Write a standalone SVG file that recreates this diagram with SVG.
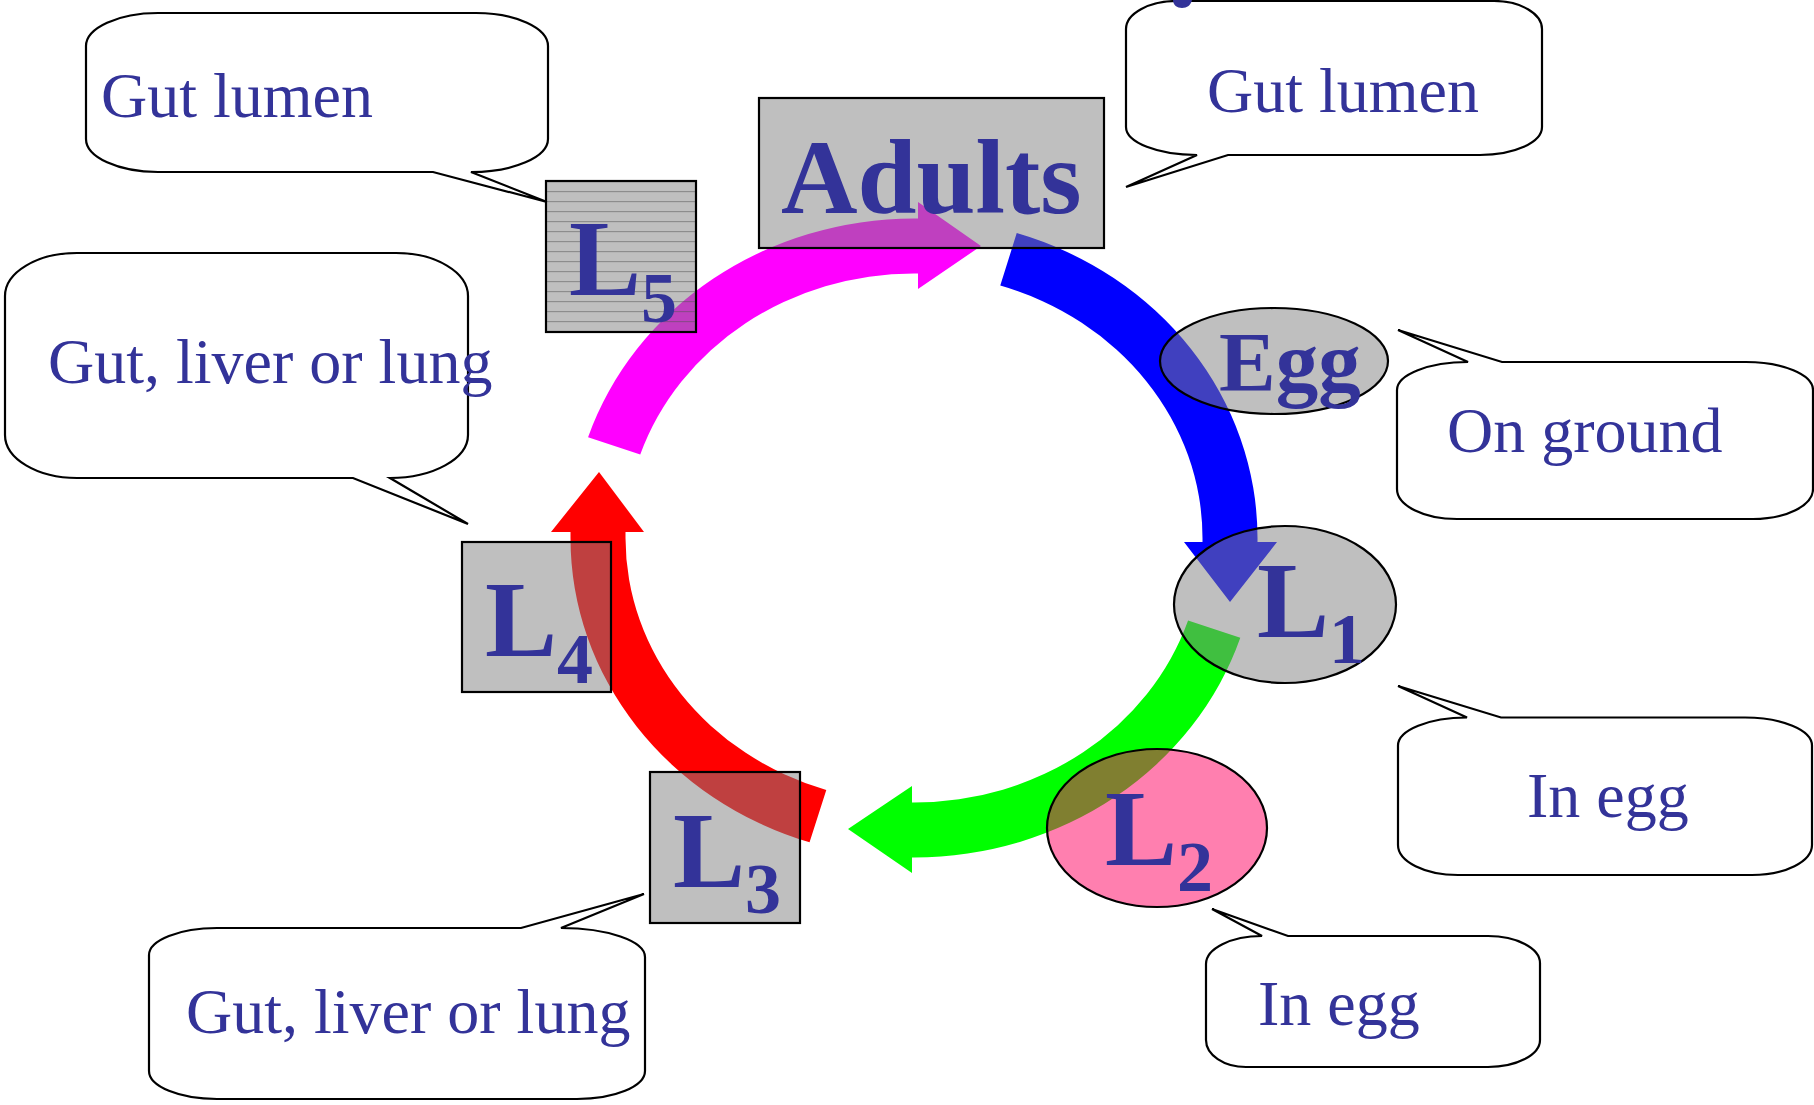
<svg xmlns="http://www.w3.org/2000/svg" width="1814" height="1105" viewBox="0 0 1814 1105">
<style>
.call{fill:#fff;stroke:#000;stroke-width:2.2;stroke-linejoin:miter}
.ct{font-family:"Liberation Serif","Times New Roman",serif;font-size:64px;fill:#333399}
.box{fill:#808080;fill-opacity:0.5;stroke:#000;stroke-width:2.2}
.pink{fill:#ff0060;fill-opacity:0.5;stroke:#000;stroke-width:2.2}
.nt{font-family:"Liberation Serif","Times New Roman",serif;font-weight:bold;font-size:108px;fill:#333399}
.sub{font-size:72px}
</style>
<defs>
<pattern id="hl" x="0" y="1" width="10" height="10" patternUnits="userSpaceOnUse">
<rect x="0" y="0" width="10" height="1.2" fill="#505050" fill-opacity="0.45"/>
</pattern>
</defs>
<rect width="1814" height="1105" fill="#fff"/>

<g id="callouts">
<g id="callout-l5">
<path class="call" d="M158,13 H476 A72 33 0 0 1 548 46 V139 A77 33 0 0 1 471 172 L547 202 L433 172 H158 A72 33 0 0 1 86 139 V46 A72 33 0 0 1 158 13 Z"/>
<text class="ct" x="101" y="117">Gut lumen</text>
</g>
<g id="callout-adults">
<path class="call" d="M1177,1 H1494 A48 28 0 0 1 1542 29 V127 A62 28 0 0 1 1480 155 H1228 L1126 187 L1197 155 A71 28 0 0 1 1126 127 V29 A51 28 0 0 1 1177 1 Z"/>
<text class="ct" x="1207" y="112">Gut lumen</text>
</g>
<g id="callout-egg">
<path class="call" d="M1502,362 H1746 A67 28 0 0 1 1813 390 V489 A60 30 0 0 1 1753 519 H1457 A60 30 0 0 1 1397 489 V390 A71 28 0 0 1 1468 362 L1398 330 Z"/>
<text class="ct" x="1447" y="452">On ground</text>
</g>
<g id="callout-l1">
<path class="call" d="M1501,717.5 H1745 A67 28 0 0 1 1812 745.5 V845 A60 30 0 0 1 1752 875 H1458 A60 30 0 0 1 1398 845 V745.5 A69 28 0 0 1 1467 717.5 L1398 686 Z"/>
<text class="ct" x="1527" y="817">In egg</text>
</g>
<g id="callout-l2">
<path class="call" d="M1288,936 H1488 A52 27 0 0 1 1540 963 V1040 A52 27 0 0 1 1488 1067 H1246 A40 27 0 0 1 1206 1040 V964 A56 28 0 0 1 1262 936 L1212 909 Z"/>
<text class="ct" x="1258" y="1025">In egg</text>
</g>
<g id="callout-l3">
<path class="call" d="M217,928 H521 L644 894 L561 928 A84 29 0 0 1 645 957 V1071 A68 28 0 0 1 577 1099 H217 A68 28 0 0 1 149 1071 V955 A68 27 0 0 1 217 928 Z"/>
<text class="ct" x="186" y="1033">Gut, liver or lung</text>
</g>
<g id="callout-l4">
<path class="call" d="M77,253 H396 A72 43 0 0 1 468 296 V435 A78 43 0 0 1 390 478 L468 524 L353 478 H77 A72 43 0 0 1 5 435 V296 A72 43 0 0 1 77 253 Z"/>
<text class="ct" x="48" y="383">Gut, liver or lung</text>
</g>
</g>

<path id="title-fragment" d="M1173,0 H1192 C1191,5 1187,8 1182,8 C1177,8 1173,5 1173,0 Z" fill="#333399"/>

<g id="connectors">
<path id="arrow-l5-adults" fill="#ff00ff" d="M588.06,437.15 A343.5 319.5 0 0 1 914 218.5 L918,218.5 L918,202 L981,246 L918,289 L918,273.5 L914,273.5 A288.5 264.5 0 0 0 640.25 454.51 Z"/>
<path id="arrow-adults-l1" fill="#0000ff" d="M1016.72,233.12 A343.5 319.5 0 0 1 1257.5 538 L1257.5,542 L1277,542 L1230,602 L1184,542 L1202.5,542 L1202.5,538 A288.5 264.5 0 0 0 1000.27 285.6 Z"/>
<path id="arrow-l1-l3" fill="#00ff00" d="M1240.31,637.79 A343.5 319.5 0 0 1 914 857.5 L912,857.5 L912,873 L848,829 L912,786 L912,802.5 L914,802.5 A288.5 264.5 0 0 0 1188.07 620.61 Z"/>
<path id="arrow-l3-l4" fill="#ff0000" d="M809.57,842.37 A343.5 319.5 0 0 1 570.5 538 L570.5,532 L551,532 L599,472 L644,532 L625.5,532 L625.5,538 A288.5 264.5 0 0 0 826.29 789.98 Z"/>
</g>

<g id="node-adults">
<rect class="box" x="759" y="98" width="345" height="150"/>
<text class="nt" x="781" y="213" style="font-size:106px">Adults</text>
</g>
<g id="node-l5">
<rect class="box" x="546" y="181" width="150" height="151"/>
<rect x="547" y="182" width="148" height="149" fill="url(#hl)"/>
<text class="nt" x="569" y="295">L<tspan class="sub" y="322">5</tspan></text>
</g>
<g id="node-egg">
<ellipse class="box" cx="1274" cy="361" rx="114" ry="53"/>
<text class="nt" x="1219" y="391" style="font-size:85px">Egg</text>
</g>
<g id="node-l1">
<ellipse class="box" cx="1285" cy="604.5" rx="111" ry="78.5"/>
<text class="nt" x="1257" y="637">L<tspan class="sub" y="663">1</tspan></text>
</g>
<g id="node-l2">
<ellipse class="pink" cx="1157" cy="828" rx="110" ry="79"/>
<text class="nt" x="1105" y="865">L<tspan class="sub" y="891">2</tspan></text>
</g>
<g id="node-l3">
<rect class="box" x="650" y="772" width="150" height="151"/>
<text class="nt" x="673" y="886.5">L<tspan class="sub" y="913">3</tspan></text>
</g>
<g id="node-l4">
<rect class="box" x="462" y="542" width="149" height="150"/>
<text class="nt" x="485" y="655.5">L<tspan class="sub" y="683">4</tspan></text>
</g>
</svg>
